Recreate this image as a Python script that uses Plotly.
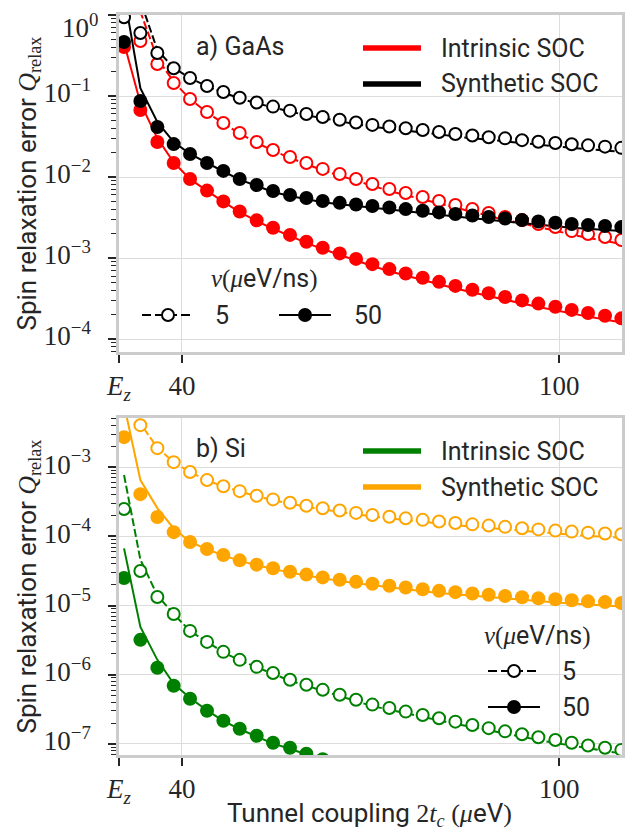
import plotly.graph_objects as go

# ---------------- data ----------------
tc = [30.8, 33.4, 36.1, 38.7, 41.3, 44.0, 46.6, 49.2, 51.9, 54.5, 57.2, 59.8, 62.4, 65.1, 67.7,
      70.3, 73.0, 75.6, 78.3, 80.9, 83.5, 86.2, 88.8, 91.4, 94.1, 96.7, 99.4, 102.0, 104.6, 107.3, 109.9]

# GaAs
gaas_int_v5_num = [1.5, 0.478, 0.248, 0.145, 0.0918, 0.0634, 0.0464, 0.0349, 0.0270, 0.0216, 0.0177, 0.0149,
                   0.0126, 0.0109, 0.00945, 0.00820, 0.00711, 0.00634, 0.00566, 0.00506, 0.00451, 0.00403,
                   0.00359, 0.00321, 0.00294, 0.00263, 0.00241, 0.00215, 0.00198, 0.00182, 0.00167]
gaas_int_v5_th = [5.0, 1.1, 0.29, 0.15, 0.0914, 0.0629, 0.0458, 0.0343, 0.0264, 0.0211, 0.0172, 0.0144,
                  0.0121, 0.0104, 0.00902, 0.00779, 0.00673, 0.00597, 0.00531, 0.00473, 0.00419, 0.00373,
                  0.00331, 0.00295, 0.00269, 0.00239, 0.00218, 0.00194, 0.00178, 0.00163, 0.00149]
gaas_int_v50_num = [0.403, 0.0672, 0.0270, 0.0149, 0.00945, 0.00680, 0.00500, 0.00375, 0.00292, 0.00236,
                    0.00193, 0.00159, 0.00134, 0.00114, 0.000975, 0.000840, 0.000730, 0.000645, 0.000570,
                    0.000508, 0.000453, 0.000406, 0.000367, 0.000331, 0.000300, 0.000274, 0.000250,
                    0.000229, 0.000210, 0.000194, 0.000180]
gaas_int_v50_th = [0.45, 0.082, 0.030, 0.0152, 0.00941, 0.00675, 0.00494, 0.00369, 0.00286, 0.00230,
                   0.00187, 0.00154, 0.00129, 0.00109, 0.000930, 0.000798, 0.000688, 0.000605, 0.000532,
                   0.000474, 0.000421, 0.000376, 0.000338, 0.000304, 0.000274, 0.000248, 0.000225,
                   0.000206, 0.000189, 0.000174, 0.000160]
gaas_syn_v5_num = [0.94, 0.60, 0.34, 0.22, 0.167, 0.133, 0.112, 0.095, 0.083, 0.074, 0.066, 0.060, 0.055,
                   0.051, 0.047, 0.044, 0.042, 0.040, 0.038, 0.036, 0.034, 0.0325, 0.031, 0.030, 0.0285,
                   0.0273, 0.0263, 0.0254, 0.0246, 0.0237, 0.0229]
gaas_syn_v5_th = [3.0, 1.5, 0.37, 0.222, 0.166, 0.132, 0.1105, 0.0934, 0.0813, 0.0722, 0.0641, 0.0580,
                  0.0530, 0.0489, 0.0448, 0.0418, 0.0397, 0.0377, 0.0356, 0.0336, 0.0316, 0.0301, 0.0286,
                  0.0275, 0.0260, 0.0248, 0.0238, 0.0229, 0.0221, 0.0212, 0.0204]
gaas_syn_v50_num = [0.464, 0.0867, 0.0414, 0.0255, 0.0192, 0.0149, 0.0119, 0.00944, 0.00796, 0.00671,
                    0.00600, 0.00551, 0.00506, 0.00480, 0.00458, 0.00438, 0.00420, 0.00402, 0.00384,
                    0.00366, 0.00350, 0.00335, 0.00321, 0.00307, 0.00294, 0.00283, 0.00272, 0.00263,
                    0.00255, 0.00248, 0.00241]
gaas_syn_v50_th = [1.8, 0.125, 0.048, 0.027, 0.0193, 0.0148, 0.0117, 0.00928, 0.00779, 0.00654, 0.00583,
                   0.00533, 0.00487, 0.00460, 0.00437, 0.00416, 0.00397, 0.00379, 0.00360, 0.00342,
                   0.00326, 0.00310, 0.00296, 0.00282, 0.00269, 0.00258, 0.00246, 0.00237, 0.00229,
                   0.00222, 0.00215]

# Si
si_int_v5_num = [2.48e-4, 3.16e-5, 1.33e-5, 7.56e-6, 4.30e-6, 2.98e-6, 2.14e-6, 1.64e-6, 1.30e-6, 1.06e-6,
                 8.45e-7, 7.15e-7, 6.05e-7, 5.13e-7, 4.34e-7, 3.70e-7, 3.30e-7, 2.93e-7, 2.62e-7, 2.35e-7,
                 2.10e-7, 1.88e-7, 1.69e-7, 1.52e-7, 1.38e-7, 1.25e-7, 1.14e-7, 1.04e-7, 9.5e-8, 8.8e-8, 8.2e-8]
si_int_v5_th = [7.7e-4, 4.6e-5, 1.4e-5, 7.56e-6, 4.28e-6, 2.96e-6, 2.11e-6, 1.61e-6, 1.27e-6, 1.03e-6,
                8.2e-7, 6.9e-7, 5.83e-7, 4.91e-7, 4.14e-7, 3.52e-7, 3.12e-7, 2.76e-7, 2.46e-7, 2.19e-7,
                1.95e-7, 1.74e-7, 1.56e-7, 1.40e-7, 1.26e-7, 1.14e-7, 1.03e-7, 9.4e-8, 8.5e-8, 7.9e-8, 7.3e-8]
si_int_v50_num = [2.50e-5, 3.19e-6, 1.26e-6, 6.92e-7, 4.49e-7, 3.01e-7, 2.16e-7, 1.66e-7, 1.31e-7, 1.04e-7,
                  8.8e-8, 7.2e-8, 6.0e-8, 5.1e-8, 4.4e-8, 3.8e-8, 3.3e-8, 2.9e-8, 2.55e-8, 2.25e-8, 2.0e-8,
                  1.8e-8, 1.6e-8, 1.45e-8, 1.3e-8, 1.18e-8, 1.07e-8, 9.7e-9, 8.8e-9, 8.0e-9, 7.3e-9]
si_int_v50_th = [6.7e-5, 4.9e-6, 1.64e-6, 7.4e-7, 4.6e-7, 3.05e-7, 2.15e-7, 1.63e-7, 1.28e-7, 1.01e-7,
                 8.5e-8, 6.95e-8, 5.8e-8, 4.9e-8, 4.2e-8, 3.6e-8, 3.1e-8, 2.7e-8, 2.4e-8, 2.1e-8, 1.86e-8,
                 1.67e-8, 1.48e-8, 1.33e-8, 1.19e-8, 1.07e-8, 9.7e-9, 8.7e-9, 7.9e-9, 7.2e-9, 6.5e-9]
si_syn_v5_num = [1.5e-2, 4.04e-3, 1.88e-3, 1.18e-3, 8.5e-4, 6.5e-4, 5.3e-4, 4.5e-4, 3.85e-4, 3.42e-4,
                 3.05e-4, 2.76e-4, 2.54e-4, 2.36e-4, 2.18e-4, 2.03e-4, 1.92e-4, 1.82e-4, 1.73e-4, 1.64e-4,
                 1.56e-4, 1.49e-4, 1.43e-4, 1.37e-4, 1.31e-4, 1.26e-4, 1.21e-4, 1.17e-4, 1.13e-4, 1.10e-4, 1.07e-4]
si_syn_v5_th = [2.0e-2, 4.3e-3, 1.9e-3, 1.18e-3, 8.47e-4, 6.45e-4, 5.23e-4, 4.42e-4, 3.77e-4, 3.33e-4,
                2.96e-4, 2.67e-4, 2.45e-4, 2.26e-4, 2.08e-4, 1.93e-4, 1.82e-4, 1.71e-4, 1.62e-4, 1.53e-4,
                1.45e-4, 1.38e-4, 1.32e-4, 1.26e-4, 1.20e-4, 1.15e-4, 1.10e-4, 1.06e-4, 1.01e-4, 9.85e-5, 9.55e-5]
si_syn_v50_num = [2.71e-3, 4.07e-4, 1.90e-4, 1.15e-4, 8.27e-5, 6.56e-5, 5.37e-5, 4.50e-5, 3.90e-5, 3.45e-5,
                  3.08e-5, 2.80e-5, 2.55e-5, 2.36e-5, 2.20e-5, 2.06e-5, 1.93e-5, 1.82e-5, 1.72e-5, 1.63e-5,
                  1.56e-5, 1.49e-5, 1.43e-5, 1.37e-5, 1.32e-5, 1.27e-5, 1.23e-5, 1.19e-5, 1.15e-5, 1.12e-5, 1.09e-5]
si_syn_v50_th = [8.0e-3, 6.5e-4, 2.56e-4, 1.30e-4, 8.3e-5, 6.5e-5, 5.3e-5, 4.42e-5, 3.82e-5, 3.36e-5,
                 2.99e-5, 2.71e-5, 2.46e-5, 2.26e-5, 2.10e-5, 1.96e-5, 1.83e-5, 1.71e-5, 1.61e-5, 1.52e-5,
                 1.45e-5, 1.38e-5, 1.32e-5, 1.26e-5, 1.21e-5, 1.16e-5, 1.11e-5, 1.07e-5, 1.03e-5, 1.00e-5, 9.7e-6]

x_tick_vals = [30, 40, 100]
x_tick_text = ["<i>E</i><sub><i>z</i></sub>", "40", "100"]
y1_tick_vals = [1, 0.1, 0.01, 0.001, 0.0001]
y1_tick_text = ["10<sup>0</sup>", "10<sup>−1</sup>", "10<sup>−2</sup>", "10<sup>−3</sup>", "10<sup>−4</sup>"]
y2_tick_vals = [1e-3, 1e-4, 1e-5, 1e-6, 1e-7]
y2_tick_text = ["10<sup>−3</sup>", "10<sup>−4</sup>", "10<sup>−5</sup>", "10<sup>−6</sup>", "10<sup>−7</sup>"]

RED, BLACK, GREEN, ORANGE = "#ff0000", "#000000", "#008000", "#ffa500"
SANS = "Roboto"
SERIF = "Liberation Serif"
TXT = "#262626"

fig = go.Figure()

def add_line(y, color, dash, xa, ya):
    fig.add_trace(go.Scatter(x=tc, y=y, mode="lines", line=dict(color=color, width=2, dash=dash),
                             xaxis=xa, yaxis=ya, showlegend=False, hoverinfo="skip"))

def add_marks(y, color, filled, xa, ya):
    if filled:
        m = dict(symbol="circle", size=14, color=color, line=dict(width=0))
    else:
        m = dict(symbol="circle", size=12, color="white", line=dict(color=color, width=2))
    fig.add_trace(go.Scatter(x=tc, y=y, mode="markers", marker=m, xaxis=xa, yaxis=ya,
                             showlegend=False))

DASH = "8px,3px"
add_line(gaas_int_v5_th, RED, DASH, "x", "y")
add_line(gaas_int_v50_th, RED, "solid", "x", "y")
add_line(gaas_syn_v5_th, BLACK, DASH, "x", "y")
add_line(gaas_syn_v50_th, BLACK, "solid", "x", "y")
add_marks(gaas_int_v5_num, RED, False, "x", "y")
add_marks(gaas_int_v50_num, RED, True, "x", "y")
add_marks(gaas_syn_v5_num, BLACK, False, "x", "y")
add_marks(gaas_syn_v50_num, BLACK, True, "x", "y")
add_line(si_int_v5_th, GREEN, DASH, "x2", "y2")
add_line(si_int_v50_th, GREEN, "solid", "x2", "y2")
add_line(si_syn_v5_th, ORANGE, DASH, "x2", "y2")
add_line(si_syn_v50_th, ORANGE, "solid", "x2", "y2")
add_marks(si_int_v5_num, GREEN, False, "x2", "y2")
add_marks(si_int_v50_num, GREEN, True, "x2", "y2")
add_marks(si_syn_v5_num, ORANGE, False, "x2", "y2")
add_marks(si_syn_v50_num, ORANGE, True, "x2", "y2")

# Page body has an 8px default margin: work in screenshot pixels, convert to figure pixels.
OFF = 8
W, H = 642 - OFF, 838 - OFF
PLOT_X0, PLOT_X1 = 119, 622          # screenshot px
TOP_Y0, TOP_Y1 = 15, 352
BOT_Y0, BOT_Y1 = 418, 755
L = PLOT_X0 - OFF
R = W - (PLOT_X1 - OFF)
T = TOP_Y0 - OFF
B = H - (BOT_Y1 - OFF)
PH = BOT_Y1 - TOP_Y0

def xd(px):
    return (px - PLOT_X0) / (PLOT_X1 - PLOT_X0)

def ydt(py):
    return (TOP_Y1 - py) / (TOP_Y1 - TOP_Y0)

def ydb(py):
    return (BOT_Y1 - py) / (BOT_Y1 - BOT_Y0)

TICKFONT = dict(family=SERIF, size=27, color=TXT)

def xaxis_cfg():
    return dict(type="linear", range=[30, 110], tickmode="array", tickvals=x_tick_vals,
                ticktext=x_tick_text, ticks="outside", ticklen=8, tickwidth=1.5, tickcolor=TXT,
                tickfont=TICKFONT, showgrid=True, gridcolor="#dcdcdc", ticklabeloverflow="allow",
                gridwidth=1, showline=True, linecolor="#cccccc", linewidth=2.5, mirror=True,
                zeroline=False, automargin=False)

def minor_vals(lo, hi):
    out = []
    for e in range(lo, hi):
        for k in range(2, 10):
            out.append(k * 10.0 ** e)
    return out

def yaxis_cfg(rng, tv, tt, dom, anchor, mlo, mhi):
    return dict(type="log", range=rng, domain=dom, anchor=anchor, tickmode="array", tickvals=tv,
                ticktext=tt, ticks="outside", ticklen=8, tickwidth=1.5, tickcolor=TXT,
                tickfont=TICKFONT, showgrid=True, gridcolor="#dcdcdc", ticklabeloverflow="allow",
                ticklabelstandoff=12, ticklabelshift=-3,
                gridwidth=1, showline=True, linecolor="#cccccc", linewidth=2.5, mirror=True,
                zeroline=False, automargin=False,
                minor=dict(tickmode="array", tickvals=minor_vals(mlo, mhi), ticks="outside",
                           ticklen=5, tickwidth=1, tickcolor=TXT, showgrid=False))

# the top "10^0" label would be cut by the page edge: draw it as a note pinned to the top
y1_axis_text = [""] + y1_tick_text[1:]

fig.update_layout(
    width=W, height=H, margin=dict(l=L, r=R, t=T, b=B, pad=0),
    paper_bgcolor="white", plot_bgcolor="white",
    font=dict(family=SANS, size=25, color=TXT),
    showlegend=False,
    xaxis=dict(**xaxis_cfg(), anchor="y", domain=[0, 1]),
    xaxis2=dict(**xaxis_cfg(), anchor="y2", domain=[0, 1]),
    yaxis=yaxis_cfg([-4.16, 0.0], y1_tick_vals, y1_axis_text,
                    [(BOT_Y1 - TOP_Y1) / PH, 1.0], "x", -5, 0),
    yaxis2=yaxis_cfg([-7.16, -2.29], y2_tick_vals, y2_tick_text,
                     [0.0, (BOT_Y1 - BOT_Y0) / PH], "x2", -8, -2),
)

ann = []
shapes = []

def text(x, y, s, xref, yref, xanchor="left", size=25, angle=0):
    ann.append(dict(x=x, y=y, xref=xref, yref=yref, text=s, showarrow=False, xanchor=xanchor,
                    yanchor="middle", textangle=angle, font=dict(family=SANS, size=size, color=TXT)))

def hline(x0, x1, y, xref, yref, color, width, dash="solid"):
    shapes.append(dict(type="line", xref=xref, yref=yref, x0=x0, x1=x1, y0=y, y1=y,
                       line=dict(color=color, width=width, dash=dash), layer="above"))

def dot(x, y, xref, yref, filled, r):
    shapes.append(dict(type="circle", xref=xref, yref=yref, xsizemode="pixel", ysizemode="pixel",
                       xanchor=x, yanchor=y, x0=-r, x1=r, y0=-r, y1=r,
                       fillcolor="black" if filled else "white",
                       line=dict(color="black", width=2 if not filled else 0), layer="above"))

ser = "<span style='font-family:%s'>" % SERIF
vtitle = ser + "<i>v</i>(<i>μ</i></span>eV/ns" + ser + ")</span>"

# top tick label 10^0
ann.append(dict(x=xd(99), y=1 + T / PH, xref="x domain", yref="paper", text=y1_tick_text[0],
                showarrow=False, xanchor="right", yanchor="top", borderpad=0,
                font=TICKFONT))

# panel labels
text(xd(194), ydt(47), "a) GaAs", "x domain", "y domain")
text(xd(194), ydb(448), "b) Si", "x2 domain", "y2 domain")

# top legend (SOC)
hline(xd(363), xd(421), ydt(48), "x domain", "y domain", RED, 5.5)
hline(xd(363), xd(421), ydt(84), "x domain", "y domain", BLACK, 5.5)
text(xd(439), ydt(48), "Intrinsic SOC", "x domain", "y domain")
text(xd(439), ydt(84), "Synthetic SOC", "x domain", "y domain")
# top legend (v)
text(xd(264), ydt(278), vtitle, "x domain", "y domain", xanchor="center")
hline(xd(142), xd(193), ydt(315), "x domain", "y domain", BLACK, 2, "9px,4px")
dot(xd(168), ydt(315), "x domain", "y domain", False, 6)
text(xd(213), ydt(315), "5", "x domain", "y domain")
hline(xd(279), xd(331), ydt(315), "x domain", "y domain", BLACK, 2)
dot(xd(305), ydt(315), "x domain", "y domain", True, 7)
text(xd(352), ydt(315), "50", "x domain", "y domain")

# bottom legend (SOC)
hline(xd(363), xd(421), ydb(451), "x2 domain", "y2 domain", GREEN, 5.5)
hline(xd(363), xd(421), ydb(487), "x2 domain", "y2 domain", ORANGE, 5.5)
text(xd(439), ydb(451), "Intrinsic SOC", "x2 domain", "y2 domain")
text(xd(439), ydb(487), "Synthetic SOC", "x2 domain", "y2 domain")
# bottom legend (v)
text(xd(537), ydb(635), vtitle, "x2 domain", "y2 domain", xanchor="center")
hline(xd(488), xd(540), ydb(671), "x2 domain", "y2 domain", BLACK, 2, "9px,4px")
dot(xd(514), ydb(671), "x2 domain", "y2 domain", False, 6)
text(xd(560), ydb(671), "5", "x2 domain", "y2 domain")
hline(xd(488), xd(540), ydb(707), "x2 domain", "y2 domain", BLACK, 2)
dot(xd(514), ydb(707), "x2 domain", "y2 domain", True, 7)
text(xd(560), ydb(707), "50", "x2 domain", "y2 domain")

# axis titles
ytitle = "Spin relaxation error " + ser + "<i>Q</i><sub>relax</sub></span>"
text(xd(28), 0.5, ytitle, "x domain", "y domain", xanchor="center", size=26, angle=-90)
text(xd(28), 0.5, ytitle, "x2 domain", "y2 domain", xanchor="center", size=26, angle=-90)
xtitle = "Tunnel coupling " + ser + "2<i>t</i><sub><i>c</i></sub> (<i>μ</i></span>eV" + ser + ")</span>"
ann.append(dict(x=xd(369), y=(BOT_Y1 - 814) / PH, xref="paper", yref="paper", text=xtitle,
                showarrow=False, xanchor="center", yanchor="middle",
                font=dict(family=SANS, size=26, color=TXT)))

fig.update_layout(annotations=ann, shapes=shapes)
fig.write_html("out.html")
